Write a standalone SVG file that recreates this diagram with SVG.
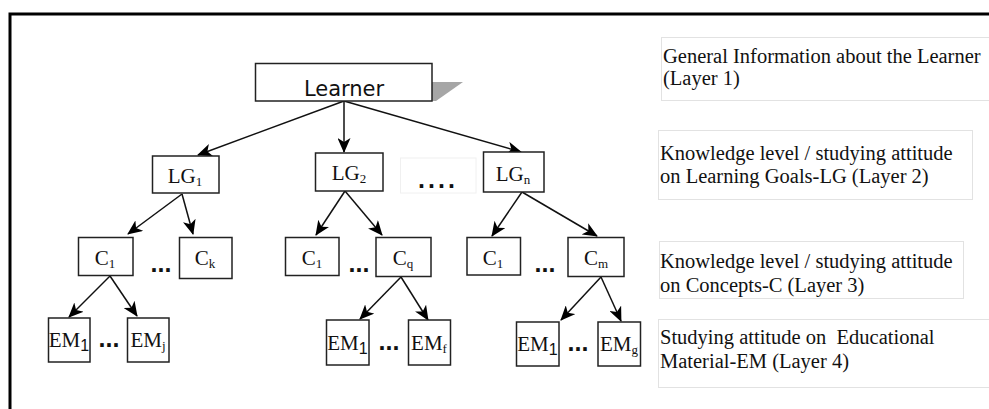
<svg xmlns="http://www.w3.org/2000/svg" width="989" height="409" viewBox="0 0 989 409">
<style>
.frame{stroke:#000;stroke-width:3;fill:none}
.node{fill:#fff;stroke:#222;stroke-width:1.5}
.t{font-family:"Liberation Serif","Times New Roman",serif;font-size:21px;fill:#111}
.sub{font-size:13px}
.lab{fill:#fff;stroke:#e2e2e2;stroke-width:1}
.lt{font-family:"Liberation Serif","Times New Roman",serif;font-size:20.5px;fill:#111}
.dots{font-family:"Liberation Sans",Arial,sans-serif;font-size:25px;font-weight:bold;fill:#111}
.edge{stroke:#111;stroke-width:1.5;fill:none;marker-end:url(#ah)}
</style>
<defs>
<marker id="ah" viewBox="0 0 15 13" refX="14" refY="6.5" markerWidth="15" markerHeight="13" markerUnits="userSpaceOnUse" orient="auto">
<path d="M0,0 L15,6.5 L0,13 L4,6.5 Z" fill="#000"/>
</marker>
</defs>
<rect width="989" height="409" fill="#fff"/>
<path class="frame" d="M10,409 L10,14 L989,14"/>

<g id="labels">
<g id="label1">
<rect class="lab" x="661.5" y="37.5" width="330" height="63"/>
<text class="lt" x="663" y="63">General Information about the Learner</text>
<text class="lt" x="663" y="85">(Layer 1)</text>
</g>
<g id="label2">
<rect class="lab" x="658.5" y="130.5" width="314" height="69"/>
<text class="lt" x="660" y="160">Knowledge level / studying attitude</text>
<text class="lt" x="660" y="183">on Learning Goals-LG (Layer 2)</text>
</g>
<g id="label3">
<rect class="lab" x="659.5" y="241.5" width="304" height="57"/>
<text class="lt" x="660" y="268">Knowledge level / studying attitude</text>
<text class="lt" x="660" y="292">on Concepts-C (Layer 3)</text>
</g>
<g id="label4">
<rect class="lab" x="658.5" y="319.5" width="332" height="68"/>
<text class="lt" x="660" y="344" xml:space="preserve">Studying attitude on  Educational</text>
<text class="lt" x="660" y="368">Material-EM (Layer 4)</text>
</g>
</g>

<g id="connectors">
<line class="edge" x1="344" y1="101" x2="198" y2="155"/>
<line class="edge" x1="344" y1="101" x2="344" y2="152"/>
<line class="edge" x1="344" y1="101" x2="521" y2="152"/>
<line class="edge" x1="182" y1="194" x2="128" y2="234"/>
<line class="edge" x1="182" y1="194" x2="193" y2="234"/>
<line class="edge" x1="345" y1="191" x2="316" y2="235"/>
<line class="edge" x1="345" y1="191" x2="382" y2="235"/>
<line class="edge" x1="522" y1="192" x2="492" y2="236"/>
<line class="edge" x1="522" y1="192" x2="597" y2="236"/>
<line class="edge" x1="110" y1="276" x2="69" y2="317"/>
<line class="edge" x1="110" y1="276" x2="137" y2="316"/>
<line class="edge" x1="401" y1="277" x2="360" y2="319"/>
<line class="edge" x1="401" y1="277" x2="428" y2="320"/>
<line class="edge" x1="601" y1="277" x2="561" y2="320"/>
<line class="edge" x1="601" y1="277" x2="621" y2="321"/>
</g>

<g id="learner">
<polygon points="432,82 463,82 436,101 432,101" fill="#a6a6a6"/>
<rect class="node" x="255.5" y="63.5" width="176.5" height="37.5"/>
<text x="344" y="96" text-anchor="middle" font-family="'DejaVu Sans',sans-serif" font-size="21" fill="#111">Learner</text>
</g>

<g id="lg1">
<rect class="node" x="152.5" y="156" width="66.5" height="37"/>
<text class="t" x="185" y="183" text-anchor="middle">LG<tspan class="sub" dy="3">1</tspan></text>
</g>
<g id="lg2">
<rect class="node" x="315.5" y="153" width="67.5" height="38"/>
<text class="t" x="349" y="180" text-anchor="middle">LG<tspan class="sub" dy="3">2</tspan></text>
</g>
<g id="lgdots">
<rect x="400.5" y="158" width="75.5" height="35" fill="#fff" stroke="#f0f0f0"/>
<text class="dots" x="438" y="188" text-anchor="middle" letter-spacing="3">....</text>
</g>
<g id="lgn">
<rect class="node" x="483.5" y="152" width="60.5" height="40"/>
<text class="t" x="513" y="181" text-anchor="middle">LG<tspan class="sub" dy="3">n</tspan></text>
</g>

<g id="c1a">
<rect class="node" x="78.5" y="237.5" width="54.5" height="38"/>
<text class="t" x="105" y="265" text-anchor="middle">C<tspan class="sub" dy="3">1</tspan></text>
</g>
<text class="dots" x="161" y="272" text-anchor="middle">...</text>
<g id="ck">
<rect class="node" x="179.5" y="237.5" width="52.5" height="41"/>
<text class="t" x="205" y="265" text-anchor="middle">C<tspan class="sub" dy="3">k</tspan></text>
</g>
<g id="c1b">
<rect class="node" x="285.5" y="237.5" width="53.5" height="38"/>
<text class="t" x="312" y="265" text-anchor="middle">C<tspan class="sub" dy="3">1</tspan></text>
</g>
<text class="dots" x="359" y="272" text-anchor="middle">...</text>
<g id="cq">
<rect class="node" x="376" y="237.5" width="55" height="39"/>
<text class="t" x="403" y="265" text-anchor="middle">C<tspan class="sub" dy="3">q</tspan></text>
</g>
<g id="c1c">
<rect class="node" x="467" y="237.5" width="53.5" height="37.5"/>
<text class="t" x="493" y="265" text-anchor="middle">C<tspan class="sub" dy="3">1</tspan></text>
</g>
<text class="dots" x="545" y="272" text-anchor="middle">...</text>
<g id="cm">
<rect class="node" x="568" y="237.5" width="56" height="39"/>
<text class="t" x="596" y="265" text-anchor="middle">C<tspan class="sub" dy="3">m</tspan></text>
</g>

<g id="em1a">
<rect class="node" x="48.5" y="318" width="41.5" height="44"/>
<text class="t" x="69" y="347" text-anchor="middle">EM<tspan font-family="'Liberation Sans',sans-serif" font-size="16" dy="4">1</tspan></text>
</g>
<text class="dots" x="109" y="347" text-anchor="middle">...</text>
<g id="emj">
<rect class="node" x="127.5" y="318" width="41.5" height="44"/>
<text class="t" x="148" y="347" text-anchor="middle">EM<tspan class="sub" dy="3">j</tspan></text>
</g>
<g id="em1b">
<rect class="node" x="326.5" y="320" width="42.5" height="45"/>
<text class="t" x="347.5" y="350" text-anchor="middle">EM<tspan font-family="'Liberation Sans',sans-serif" font-size="16" dy="4">1</tspan></text>
</g>
<text class="dots" x="389" y="350" text-anchor="middle">...</text>
<g id="emf">
<rect class="node" x="408.5" y="320" width="42" height="45"/>
<text class="t" x="429" y="350" text-anchor="middle">EM<tspan class="sub" dy="3">f</tspan></text>
</g>
<g id="em1c">
<rect class="node" x="516.5" y="322" width="42.5" height="44"/>
<text class="t" x="537.5" y="351" text-anchor="middle">EM<tspan font-family="'Liberation Sans',sans-serif" font-size="16" dy="4">1</tspan></text>
</g>
<text class="dots" x="578" y="351" text-anchor="middle">...</text>
<g id="emg">
<rect class="node" x="598" y="322" width="42.5" height="44"/>
<text class="t" x="619" y="351" text-anchor="middle">EM<tspan class="sub" dy="3">g</tspan></text>
</g>
</svg>
